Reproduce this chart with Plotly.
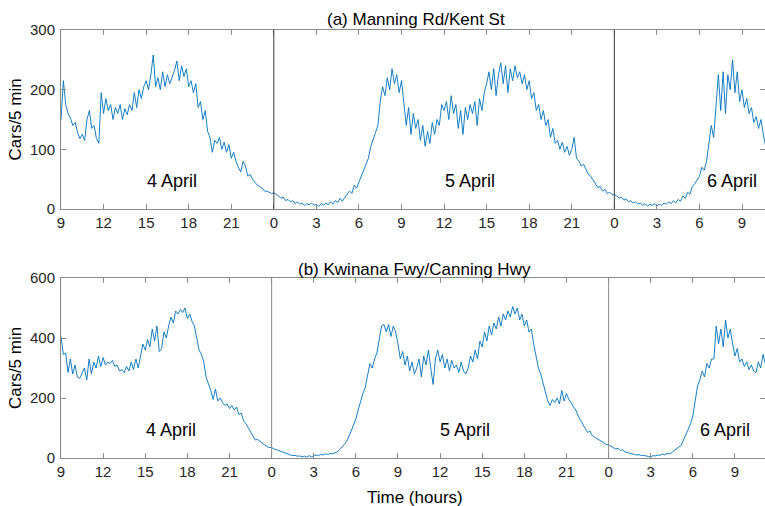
import plotly.graph_objects as go

# 5-minute-interval traffic counts, sampled every 10 minutes (cars per 5 min)
STEP_H = 1 / 6

# (a) Manning Rd/Kent St
manning_apr4 = [150, 215, 175, 160, 152, 140, 145, 128, 118, 125, 115, 150,
                165, 135, 140, 118, 110, 195, 160, 185, 165, 175, 150, 170,
                160, 175, 150, 168, 158, 175, 165, 195, 170, 200, 185, 205,
                215, 200, 225, 258, 205, 220, 200, 230, 205, 225, 210, 220,
                232, 248, 215, 240, 222, 235, 205, 215, 195, 210, 170, 180,
                150, 165, 130, 120, 95, 115, 110, 120, 100, 112, 95, 108,
                85, 95, 80, 70, 62, 80, 72, 55, 58, 50, 45, 40,
                38, 35, 30, 30, 28, 26]
manning_apr5 = [27, 25, 22, 18, 20, 14, 16, 12, 14, 9, 12, 8,
                10, 6, 9, 7, 10, 6, 8, 4, 9, 6, 10, 7,
                12, 8, 14, 11, 18, 13, 20, 25, 30, 26, 40, 35,
                45, 55, 62, 75, 85, 105, 115, 128, 140, 180, 205, 190,
                220, 200, 235, 210, 225, 195, 215, 180, 140, 170, 125, 160,
                135, 150, 115, 140, 105, 130, 110, 145, 125, 150, 140, 175,
                165, 180, 150, 190, 160, 175, 135, 165, 125, 170, 150, 175,
                160, 180, 140, 185, 165, 195, 210, 230, 200, 235, 190, 225,
                245, 210, 240, 195, 235, 215, 240, 220, 230, 210, 225, 200,
                215, 185, 195, 165, 175, 150, 165, 140, 150, 120, 135, 110,
                115, 100, 112, 95, 105, 90, 100, 120, 85, 80, 72, 75,
                65, 58, 55, 48, 42, 36, 38, 30, 33, 26, 28, 24]
manning_apr6 = [24, 22, 18, 20, 15, 17, 12, 14, 10, 12, 8, 10,
                6, 9, 5, 8, 6, 9, 5, 8, 6, 10, 8, 12,
                9, 14, 10, 16, 13, 22, 18, 28, 25, 38, 42, 48,
                55, 70, 65, 80, 115, 140, 120, 175, 225, 165, 230, 160,
                225, 200, 250, 195, 230, 180, 200, 170, 185, 160, 170, 145,
                155, 135, 150, 125, 105]

# (b) Kwinana Fwy/Canning Hwy
kwinana_apr4 = [405, 345, 350, 285, 330, 280, 310, 270, 265, 280, 300, 260,
                330, 280, 320, 300, 340, 305, 335, 310, 320, 315, 325, 305,
                310, 290, 295, 285, 305, 290, 320, 295, 330, 300, 345, 380,
                360, 395, 370, 430, 390, 440, 355, 365, 420, 400, 440, 470,
                450, 490, 480, 495, 485, 500, 465, 480, 455, 440, 400, 360,
                345, 320, 270, 250, 225, 195, 230, 190, 200, 185, 175, 180,
                165, 175, 160, 170, 145, 150, 125, 115, 100, 85, 75, 60,
                62, 55, 48, 44, 38, 35]
kwinana_apr5 = [35, 30, 28, 25, 20, 18, 15, 12, 10, 8, 9, 6,
                7, 4, 6, 3, 8, 4, 6, 10, 8, 12, 10, 14,
                12, 15, 14, 18, 20, 28, 35, 45, 55, 70, 90, 110,
                130, 160, 190, 215, 235, 270, 315, 300, 330, 350, 400, 440,
                445, 420, 445, 405, 440, 420, 380, 330, 355, 310, 340, 290,
                320, 280, 300, 330, 270, 340, 310, 360, 300, 245, 330, 360,
                320, 345, 300, 330, 290, 325, 300, 310, 285, 320, 290, 280,
                300, 340, 320, 360, 330, 390, 370, 420, 390, 440, 410, 450,
                430, 470, 440, 480, 460, 490, 470, 505, 480, 500, 460, 480,
                440, 460, 420, 430, 380, 340, 300, 280, 250, 220, 190, 175,
                195, 185, 200, 180, 225, 190, 215, 195, 185, 170, 160, 140,
                125, 110, 100, 85, 90, 75, 70, 65, 58, 55, 50, 45]
kwinana_apr6 = [44, 40, 35, 30, 33, 25, 28, 20, 18, 15, 14, 12,
                10, 11, 8, 9, 6, 5, 4, 8, 7, 10, 9, 13,
                11, 15, 14, 18, 25, 30, 35, 42, 60, 75, 95, 115,
                140, 190, 240, 260, 290, 270, 315, 300, 330, 330, 440, 380,
                430, 370, 460, 400, 430, 380, 340, 365, 320, 330, 305, 320,
                295, 310, 290, 285, 320, 300, 345, 315]

day_starts = [9, 24, 48]          # hours since 4 April 00:00
day_names = ["4 April", "5 April", "6 April"]
tick_hours = list(range(9, 58, 3))
tick_text = [str(h % 24) for h in tick_hours]
midnights = [24, 48]


def stitch(days):
    xs, ys = [], []
    for start, vals in zip(day_starts, days):
        xs += [start + i * STEP_H for i in range(len(vals))]
        ys += vals
    return xs, ys


xa, ya = stitch([manning_apr4, manning_apr5, manning_apr6])
xb, yb = stitch([kwinana_apr4, kwinana_apr5, kwinana_apr6])

FONT = "Liberation Sans, Arial, sans-serif"
LINE_BLUE = "#0072BD"
AX_GRAY = "#8a8a8a"
TXT = "#262626"

fig = go.Figure()
fig.add_trace(go.Scatter(x=xa, y=ya, mode="lines", xaxis="x", yaxis="y",
                         line=dict(color=LINE_BLUE, width=0.9), showlegend=False))
fig.add_trace(go.Scatter(x=xb, y=yb, mode="lines", xaxis="x2", yaxis="y2",
                         line=dict(color=LINE_BLUE, width=0.9), showlegend=False))

W, H = 765, 506
x_dom = [61 / W, 1.0]
top_dom = [(H - 209) / H, (H - 30) / H]
bot_dom = [(H - 458) / H, (H - 278) / H]

common_x = dict(tickmode="array", tickvals=tick_hours, ticktext=tick_text,
                ticks="inside", ticklen=5, tickcolor=AX_GRAY, showline=True,
                linecolor=AX_GRAY, linewidth=1, mirror="ticks", showgrid=False,
                zeroline=False, automargin=False,
                tickfont=dict(family=FONT, size=15, color=TXT), domain=x_dom)
common_y = dict(ticks="inside", ticklen=5, tickcolor=AX_GRAY, showline=True,
                linecolor=AX_GRAY, linewidth=1, mirror="ticks", showgrid=False,
                zeroline=False, automargin=False, ticklabelstandoff=2,
                tickfont=dict(family=FONT, size=15, color=TXT))

fig.update_layout(
    width=W, height=H,
    margin=dict(l=0, r=0, t=0, b=0, autoexpand=False),
    plot_bgcolor="white", paper_bgcolor="white",
    xaxis=dict(common_x, range=[9, 58.62], anchor="y"),
    yaxis=dict(common_y, range=[0, 300], tickvals=[0, 100, 200, 300],
               domain=top_dom, anchor="x"),
    xaxis2=dict(common_x, range=[9, 59.14], anchor="y2"),
    yaxis2=dict(common_y, range=[0, 600], tickvals=[0, 200, 400, 600],
                domain=bot_dom, anchor="x2"),
)

# day boundaries
for m in midnights:
    fig.add_shape(type="line", xref="x", yref="y domain", x0=m, x1=m, y0=0, y1=1,
                  line=dict(color="#3a3a3a", width=1))
    fig.add_shape(type="line", xref="x2", yref="y2 domain", x0=m, x1=m, y0=0, y1=1,
                  line=dict(color="#8c8c8c", width=1))

# day labels
day_label_x = [16.8, 37.8, 56.3]
for xpos, name in zip(day_label_x, day_names):
    fig.add_annotation(x=xpos, y=47, xref="x", yref="y", text=name, showarrow=False,
                       xanchor="center", yanchor="middle",
                       font=dict(family=FONT, size=18, color="black"))
    fig.add_annotation(x=xpos, y=93, xref="x2", yref="y2", text=name, showarrow=False,
                       xanchor="center", yanchor="middle",
                       font=dict(family=FONT, size=18, color="black"))

title_font = dict(family=FONT, size=17, color="black")
xc = (61 + W) / 2 / W


def paper_text(text, x_px, y_px, angle=0):
    fig.add_annotation(x=x_px / W, y=1 - y_px / H, xref="paper", yref="paper",
                       text=text, textangle=angle, showarrow=False,
                       xanchor="center", yanchor="middle", font=title_font)


paper_text("(a) Manning Rd/Kent St", 416, 20)
paper_text("(b) Kwinana Fwy/Canning Hwy", 415, 269)
paper_text("Time (hours)", 415, 497)
paper_text("Cars/5 min", 15, 119.5, -90)
paper_text("Cars/5 min", 15, 368, -90)

fig.write_html("out.html")
